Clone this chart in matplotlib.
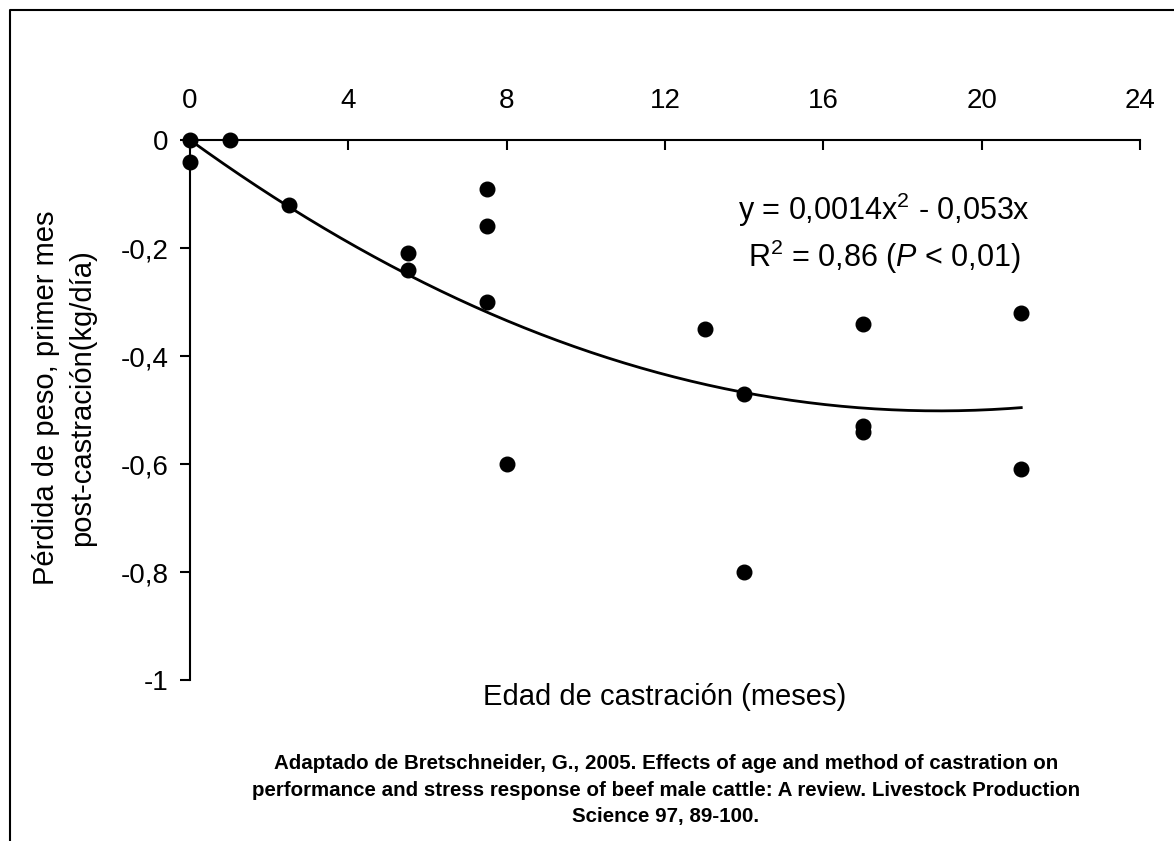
import matplotlib
matplotlib.use("Agg")
import matplotlib.pyplot as plt
import numpy as np
from matplotlib.lines import Line2D

plt.rcParams['font.family'] = ['Liberation Sans', 'DejaVu Sans']
plt.rcParams['axes.unicode_minus'] = False
plt.rcParams['mathtext.fontset'] = 'custom'
plt.rcParams['mathtext.rm'] = 'Liberation Sans'
plt.rcParams['mathtext.it'] = 'Liberation Sans:italic'

# edad de castracion (meses) y perdida de peso (kg/dia)
edad = [0, 0, 1, 2.5, 5.5, 5.5, 7.5, 7.5, 7.5, 8, 13, 14, 14, 17, 17, 17, 21, 21]
perdida = [0, -0.04, 0, -0.12, -0.21, -0.24, -0.09, -0.16, -0.30, -0.60,
           -0.35, -0.47, -0.80, -0.34, -0.53, -0.54, -0.32, -0.61]

# coeficientes de la tendencia polinomica (y = a*x^2 + b*x)
coef_a = 0.0014
coef_b = -0.053
trend_x_max = 21

x_ticks = [0, 4, 8, 12, 16, 20, 24]
y_ticks = [0, -0.2, -0.4, -0.6, -0.8, -1]
y_tick_labels = ["0", "-0,2", "-0,4", "-0,6", "-0,8", "-1"]

eq_line1 = r"y = 0,0014x$^2$ - 0,053x"
eq_line2 = r"R$^2$ = 0,86 ($\it{P}$ < 0,01)"
citation_lines = [
    "Adaptado de Bretschneider, G., 2005. Effects of age and method of castration on",
    "performance and stress response of beef male cattle: A review. Livestock Production",
    "Science 97, 89-100.",
]

W, H = 1174, 841
fig = plt.figure(figsize=(W / 100, H / 100), dpi=100)
ax = fig.add_axes([190 / W, 1 - 680 / H, 950 / W, 540 / H])

# linea de tendencia
tx = np.linspace(0, trend_x_max, 200)
ax.plot(tx, coef_a * tx ** 2 + coef_b * tx, color='black', lw=2, clip_on=False)
ax.plot(edad, perdida, 'o', color='black', ms=10.5, clip_on=False, zorder=5)

ax.set_xlim(0, 24)
ax.set_ylim(-1, 0)

for s in ['right', 'bottom']:
    ax.spines[s].set_visible(False)
for s in ['left', 'top']:
    ax.spines[s].set_linewidth(1.5)

ax.xaxis.tick_top()
ax.set_xticks(x_ticks)
ax.set_yticks(y_ticks)
ax.set_yticklabels(y_tick_labels)
ax.tick_params(axis='x', direction='in', length=7.5, width=1.5, pad=19, labelsize=20)
ax.tick_params(axis='y', direction='out', length=7.5, width=1.5, pad=8, labelsize=20)

ax.set_xlabel("Edad de castración (meses)", fontsize=21)
ax.xaxis.set_label_position('bottom')
ax.xaxis.set_label_coords(0.5, -(705 - 680) / 540)
ax.xaxis.label.set_va('baseline')

ax.set_ylabel("Pérdida de peso, primer mes\npost-castración(kg/día)",
              fontsize=21, linespacing=1.4)
ax.yaxis.set_label_coords(-(190 - 64) / 950, (680 - 398) / 540)
ax.yaxis.label.set_va('center')

ax.text(17.53, -0.149, eq_line1, fontsize=22, ha='center', va='baseline')
ax.text(17.53, -0.235, eq_line2, fontsize=22, ha='center', va='baseline')

for i, line in enumerate(citation_lines):
    fig.text(666 / W, 1 - (769 + 26.5 * i) / H, line, fontsize=14.8,
             fontweight='bold', ha='center', va='baseline')

# marco de la figura
fig.add_artist(Line2D([9.5 / W, 9.5 / W, 1.0], [0.0, 1 - 9.5 / H, 1 - 9.5 / H],
                      transform=fig.transFigure, color='black', lw=1.5))

fig.savefig("out.png", dpi=100)
